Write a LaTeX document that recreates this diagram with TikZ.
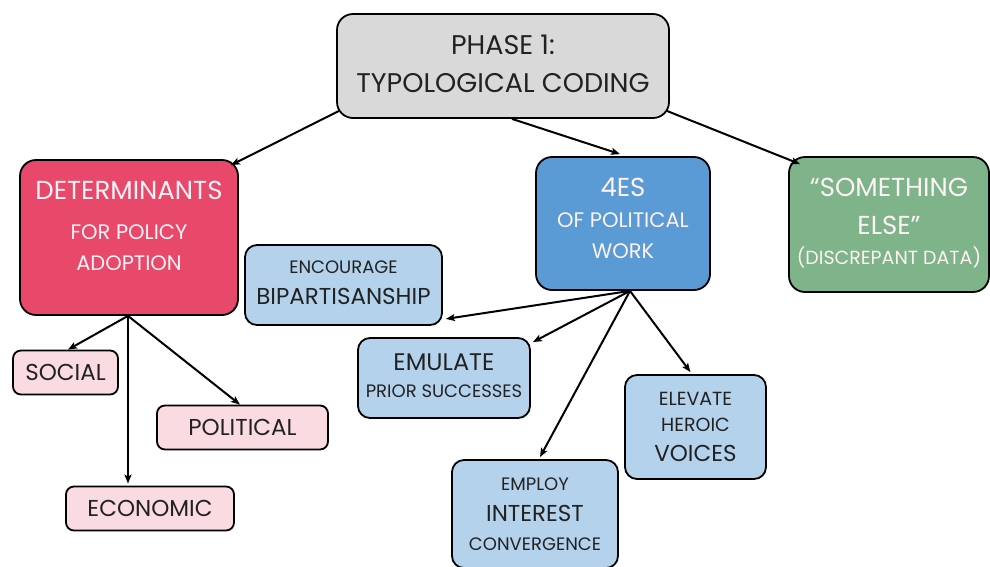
\documentclass[tikz,border=0pt]{standalone}
\usepackage{fontspec}
\setmainfont{Poppins}
\usetikzlibrary{arrows, arrows.meta, positioning}
\definecolor{phasegray}{HTML}{D9D9D9}
\definecolor{detred}{HTML}{E8486A}
\definecolor{esblue}{HTML}{5B9BD5}
\definecolor{elsegreen}{HTML}{7FB38A}
\definecolor{sublue}{HTML}{B4D2EC}
\definecolor{subpink}{HTML}{FADBE2}
\definecolor{inktext}{HTML}{222222}

\newcommand{\fs}[1]{\fontsize{#1}{20}\selectfont}

\begin{document}
\begin{tikzpicture}[x=1pt, y=-1pt]
		\tikzstyle{Box} = [rectangle, rounded corners=16pt, draw=black, line width=1.8pt, align=center, inner sep=2pt, font=\fs{20}]
		\tikzstyle{Phase} = [Box, minimum width=332pt, minimum height=104pt, fill=phasegray, text=inktext]
		\tikzstyle{Main} = [Box, text=white!93!detred]
		\tikzstyle{SubBlue} = [Box, rounded corners=12pt, fill=sublue, text=inktext]
		\tikzstyle{SubPink} = [Box, rounded corners=8pt, fill=subpink, text=inktext, minimum height=44pt, font=\fs{23}]
		\tikzstyle{arrow} = [line width=2pt, -{Stealth[length=9pt, width=7pt, inset=2pt]}]

		\useasboundingbox (0,0) rectangle (990,566);

		% top
		\node (phase) [Phase, text depth=4pt] at (503,66) {\fs{27}PHASE 1:\\[18pt]\fs{27}TYPOLOGICAL CODING};

		% three categories
		\node (det) [Main, fill=detred, minimum width=218pt, minimum height=155pt, text depth=23pt] at (129,237.5)
			{\fs{26}DETERMINANTS\\[20.5pt]\fs{21}FOR POLICY\\[11pt]\fs{21}ADOPTION};
		\node (foures) [Main, fill=esblue, minimum width=174pt, minimum height=133pt, text depth=11pt] at (623,223.5)
			{\fs{26}4ES\\[10.5pt]\fs{21}OF POLITICAL\\[11pt]\fs{21}WORK};
		\node (else) [Main, fill=elsegreen, minimum width=200pt, minimum height=135pt, text depth=7pt] at (889,224.5)
			{\fs{26}“SOMETHING\\[18pt]\fs{26}ELSE”\\[9.7pt]\fs{19}(DISCREPANT DATA)};

		% 4Es sub boxes
		\node (encourage) [SubBlue, minimum width=197pt, minimum height=80pt, text depth=5pt] at (343.5,285)
			{\fs{18}ENCOURAGE\\[10.7pt]\fs{23}BIPARTISANSHIP};
		\node (emulate) [SubBlue, minimum width=172pt, minimum height=80pt, text depth=5pt] at (444,378)
			{\fs{24}EMULATE\\[6.9pt]\fs{18}PRIOR SUCCESSES};
		\node (elevate) [SubBlue, minimum width=141pt, minimum height=104pt] at (695.5,427)
			{\fs{19}ELEVATE\\[6pt]\fs{19}HEROIC\\[10.4pt]\fs{23}VOICES};
		\node (employ) [SubBlue, minimum width=166pt, minimum height=108pt] at (535,514)
			{\fs{18}EMPLOY\\[11.7pt]\fs{23}INTEREST\\[8.3pt]\fs{18}CONVERGENCE};

		% determinants sub boxes
		\node (social) [SubPink, minimum width=105pt] at (65.5,372.5) {SOCIAL};
		\node (political) [SubPink, minimum width=171pt] at (242.5,427.5) {POLITICAL};
		\node (economic) [SubPink, minimum width=168pt] at (150,508.5) {ECONOMIC};

		% arrows
		\draw[arrow] (phase.south west) ++(3,-8) -- ([shift={(-8,6)}]det.north east);
		\draw[arrow] (phase.south) ++(9,0) -- ([shift={(-3,-2)}]foures.north);
		\draw[arrow] (phase.south east) ++(-3,-8) -- ([shift={(12,8)}]else.north west);

		\coordinate (esfoot) at ([xshift=7pt]foures.south);
		\draw[arrow] (esfoot) -- ([shift={(3,-7)}]encourage.south east);
		\draw[arrow] (esfoot) -- ([shift={(2,5)}]emulate.north east);
		\draw[arrow] (esfoot) -- ([shift={(5,-2)}]employ.north);
		\draw[arrow] (esfoot) -- ([shift={(-5,-2)}]elevate.north);

		\coordinate (detfoot) at ([xshift=-1pt]det.south);
		\draw[arrow] (detfoot) -- ([shift={(2.5,0)}]social.north);
		\draw[arrow] (detfoot) -- ([shift={(-22,-2)}]economic.north);
		\draw[arrow] (detfoot) -- ([shift={(-2.5,0)}]political.north);
		\end{tikzpicture}
\end{document}
